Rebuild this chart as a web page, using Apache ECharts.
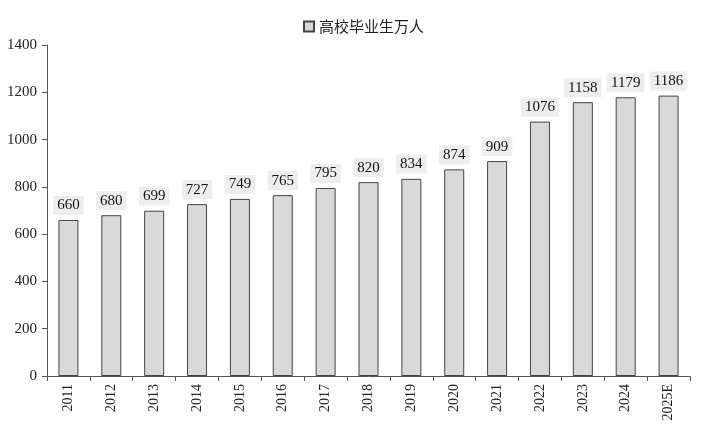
<!DOCTYPE html><html><head><meta charset="utf-8"><script src="https://cdn.jsdelivr.net/npm/echarts@6/dist/echarts.min.js"></script></head><body style="margin:0;background:#fff"><div id="c" style="width:720px;height:433px"></div><script>
const categories=['2011','2012','2013','2014','2015','2016','2017','2018','2019','2020','2021','2022','2023','2024','2025E'];
const values=[660,680,699,727,749,765,795,820,834,874,909,1076,1158,1179,1186];
const yTicks=[0,200,400,600,800,1000,1200,1400];
const chart=echarts.init(document.getElementById('c'));
const serif='"Liberation Serif","DejaVu Serif",serif';
chart.setOption({
animation:false,
legend:{top:14,left:298,itemWidth:10,itemHeight:10,itemGap:4,icon:'rect',textStyle:{fontFamily:'"Noto Sans CJK SC"',fontSize:15,color:'#222'},data:['高校毕业生万人']},
grid:{left:47,right:30,top:45,bottom:57},
xAxis:{type:'category',data:categories,axisLine:{lineStyle:{color:'#555'}},axisTick:{show:true,lineStyle:{color:'#555'}},axisLabel:{rotate:90,fontFamily:serif,fontSize:14,color:'#222',margin:8}},
yAxis:{type:'value',min:0,max:1400,interval:200,splitLine:{show:false},axisLine:{show:true,lineStyle:{color:'#555'}},axisTick:{show:true,lineStyle:{color:'#555'}},axisLabel:{fontFamily:serif,fontSize:15,color:'#222',margin:10,formatter:v=>yTicks.includes(v)?String(v):''}},
series:[{name:'高校毕业生万人',type:'bar',data:values,barWidth:20,itemStyle:{color:'#d9d9d9',borderColor:'#444',borderWidth:1},
label:{show:true,position:'top',distance:5,fontFamily:serif,fontSize:15,color:'#111',backgroundColor:'#eeeeee',padding:[2,4]}}]
});
</script></body></html>
